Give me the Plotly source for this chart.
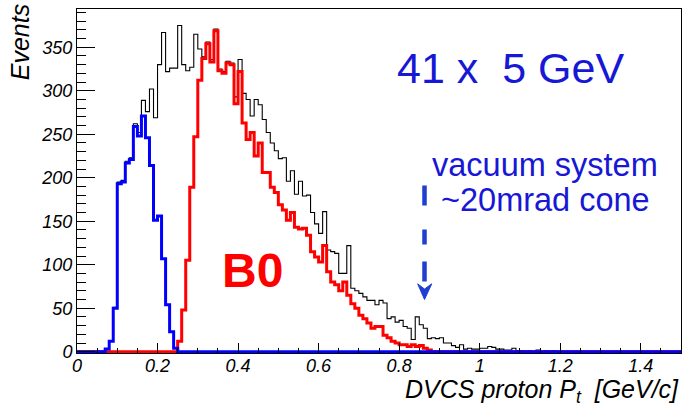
import numpy as np
import plotly.graph_objects as go

# histogram binning (GeV/c)
bin_width = 0.01
x_min, x_max = 0.0, 1.5

# all DVCS protons, bins starting at pt = 0.07
all_start = 0.07
all_counts = [3, 12, 51, 195, 197, 219, 223, 262, 252, 289, 276, 302, 269, 330, 367,
              322, 326, 326, 375, 330, 323, 327, 365, 348, 339, 356, 336, 371, 325, 322,
              334, 332, 293, 336, 297, 290, 271, 290, 284, 267, 252, 240, 231, 222, 223,
              196, 208, 181, 196, 179, 180, 160, 147, 136, 161, 117, 115, 113, 90, 90,
              122, 73, 70, 67, 63, 59, 59, 54, 59, 56, 38, 40, 34, 36, 29,
              27, 14, 40, 31, 27, 15, 16, 15, 16, 10, 10, 7, 5, 8, 3,
              4, 3, 3, 4, 4, 6, 5, 3, 3, 2, 2, 4, 1, 1, 0,
              1, 0, 2, 0, 1, 0, 1]

# protons in the B0 detector, bins starting at pt = 0.25
b0_start = 0.25
b0_counts = [12, 48, 105, 189, 247, 312, 337, 354, 333, 369, 323, 320, 332, 330, 285,
             322, 263, 244, 252, 225, 240, 206, 206, 189, 183, 169, 163, 151, 160, 143,
             141, 142, 134, 115, 109, 103, 122, 92, 80, 77, 70, 80, 65, 55, 50,
             42, 38, 33, 27, 29, 29, 19, 16, 12, 10, 8, 8, 6, 8, 6,
             7, 4, 2]

# protons inside the ~20 mrad cone, bins starting at pt = 0.07
cone_start = 0.07
cone_counts = [3, 12, 50, 193, 195, 217, 221, 259, 248, 271, 246, 214, 151, 156, 107,
               54, 23, 4]


def step_xy(start, counts):
    nbins = int(round((x_max - x_min) / bin_width))
    h = np.zeros(nbins)
    i0 = int(round((start - x_min) / bin_width))
    h[i0:i0 + len(counts)] = counts
    edges = x_min + bin_width * np.arange(nbins + 1)
    return edges, np.append(h, h[-1])


font = "Liberation Sans, Arial, sans-serif"
text_blue = "#1717d6"
arrow_blue = "#1f3fd0"

fig = go.Figure()
for start, counts, color, width in [(all_start, all_counts, "black", 1.1),
                                    (b0_start, b0_counts, "#ff0000", 3),
                                    (cone_start, cone_counts, "#0000ff", 3)]:
    xs, ys = step_xy(start, counts)
    fig.add_trace(go.Scatter(x=xs, y=ys, mode="lines", line_shape="hv",
                             line=dict(color=color, width=width), hoverinfo="skip"))

# dashed arrow pointing at the vacuum system limit
fig.add_shape(type="line", x0=0.863, x1=0.863, y0=191, y1=80,
              line=dict(color=arrow_blue, width=4.5, dash="20px,24px,15px,17px,20px,40px"))
fig.add_shape(type="path", path="M 0.846 78 L 0.863 60 L 0.881 78 L 0.863 72 Z",
              fillcolor=arrow_blue, line=dict(color=arrow_blue, width=1))

fig.add_annotation(x=0.718, y=0.828, xref="paper", yref="paper", text="41 x  5 GeV",
                   xanchor="center", yanchor="middle", showarrow=False,
                   font=dict(family=font, size=43, color=text_blue))
fig.add_annotation(x=0.775, y=0.546, xref="paper", yref="paper", text="vacuum system",
                   xanchor="center", yanchor="middle", showarrow=False,
                   font=dict(family=font, size=32.5, color=text_blue))
fig.add_annotation(x=0.775, y=0.445, xref="paper", yref="paper", text="~20mrad cone",
                   xanchor="center", yanchor="middle", showarrow=False,
                   font=dict(family=font, size=32.5, color=text_blue))
fig.add_annotation(x=0.291, y=0.241, xref="paper", yref="paper", text="<b>B0</b>",
                   xanchor="center", yanchor="middle", showarrow=False,
                   font=dict(family=font, size=48, color="#ff0000"))

# axis titles (ROOT style: aligned to the axis ends)
fig.add_annotation(x=1.0, y=-0.058, xref="paper", yref="paper", xanchor="right", yanchor="top",
                   text="DVCS proton P<sub>t</sub>  [GeV/c]", showarrow=False,
                   font=dict(family=font, size=25, color="black", style="italic"))
fig.add_annotation(x=-0.094, y=0.904, xref="paper", yref="paper", xanchor="center", yanchor="middle",
                   text="Events", textangle=-90, showarrow=False,
                   font=dict(family=font, size=25, color="black", style="italic"))

tickfont = dict(family=font, size=18, color="black", style="italic")
fig.update_xaxes(range=[x_min, x_max], showgrid=False, zeroline=False,
                 showline=True, mirror=True, linecolor="black", linewidth=1,
                 ticks="inside", ticklen=10, tickcolor="black", dtick=0.2, tick0=0,
                 minor=dict(ticks="inside", ticklen=5, dtick=0.05, tickcolor="black"),
                 tickfont=tickfont, ticklabelstandoff=-4)
fig.update_yaxes(range=[-1.5, 394], showgrid=False, zeroline=False,
                 showline=True, mirror=True, linecolor="black", linewidth=1,
                 ticks="inside", ticklen=18, tickcolor="black", dtick=50, tick0=0,
                 minor=dict(ticks="inside", ticklen=9, dtick=10, tickcolor="black"),
                 tickfont=tickfont)

fig.update_layout(width=683, height=408, margin=dict(l=77, r=2, t=9, b=55),
                  showlegend=False, plot_bgcolor="white", paper_bgcolor="white")

fig.write_html("out.html", config={"displayModeBar": False},
               post_script="document.body.style.margin = '0';")
